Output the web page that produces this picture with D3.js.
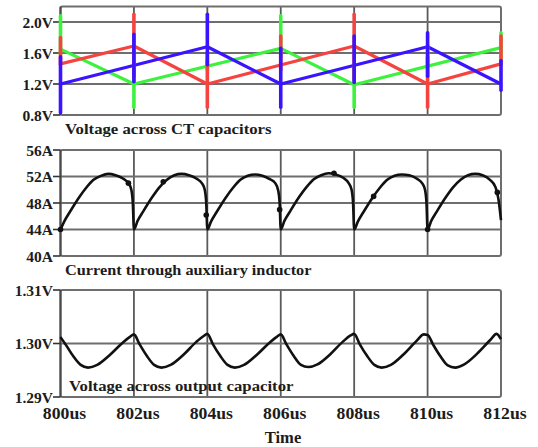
<!DOCTYPE html>
<html>
<head>
<meta charset="utf-8">
<script src="https://cdn.jsdelivr.net/npm/d3@7"></script>
<style>
  html, body { margin: 0; padding: 0; background: #ffffff; }
  svg { display: block; }
  text { font-family: "Liberation Serif", "Times New Roman", serif; font-weight: bold; fill: #1c1c1c; }
</style>
</head>
<body>
<svg id="chart" width="538" height="447"></svg>
<script>
// ---------------- DATA ----------------
const xTicks = [800, 802, 804, 806, 808, 810, 812];
const xTickLabels = ["800us", "802us", "804us", "806us", "808us", "810us", "812us"];
const xTitle = "Time";

// Panel 1: Voltage across CT capacitors
const p1Title = "Voltage across CT capacitors";
const p1Ticks = [0.8, 1.2, 1.6, 2.0];
const p1TickLabels = ["0.8V", "1.2V", "1.6V", "2.0V"];
const greenRamp = [[800, 1.65], [802, 1.2], [806, 1.66], [808, 1.19], [812, 1.67]];
const redRamp   = [[800, 1.46], [802, 1.69], [804, 1.2], [808, 1.69], [810, 1.2], [812, 1.46]];
const blueRamp  = [[800, 1.2], [804, 1.68], [806, 1.2], [810, 1.68], [812, 1.2]];
// switching spikes: [time, low, high]
const greenSpikes = [[800, 1.58, 2.08], [802, 0.9, 1.4], [804, 1.38, 1.58], [806, 1.55, 2.08], [808, 0.9, 1.4], [810, 1.42, 1.7], [812, 1.5, 1.86]];
const redSpikes   = [[800, 1.45, 1.8], [802, 1.3, 2.1], [804, 0.9, 1.5], [806, 1.38, 1.82], [808, 1.25, 2.1], [810, 0.9, 1.55], [812, 1.45, 1.82]];
const blueSpikes  = [[800, 0.83, 1.55], [802, 1.23, 1.84], [804, 1.45, 2.1], [806, 0.9, 1.66], [808, 1.22, 1.82], [810, 1.3, 1.86], [812, 1.12, 1.5]];

// Panel 2: Current through auxiliary inductor
const p2Title = "Current through auxiliary inductor";
const p2Ticks = [40, 44, 48, 52, 56];
const p2TickLabels = ["40A", "44A", "48A", "52A", "56A"];
const currentPts = [
  [800.0, 44.0], [800.1, 45.2], [800.25, 46.6], [800.5, 48.8], [800.7, 50.3], [800.9, 51.5], [801.1, 52.1], [801.3, 52.4], [801.5, 52.2], [801.7, 51.7], [801.85, 51.0], [801.93, 50.0], [801.97, 48.0],
  [802.0, 44.0], [802.1, 45.3], [802.25, 46.7], [802.5, 48.9], [802.7, 50.4], [802.9, 51.5], [803.1, 52.2], [803.3, 52.4], [803.5, 52.2], [803.7, 51.7], [803.85, 51.0], [803.93, 50.0], [803.97, 48.0],
  [804.0, 44.0], [804.1, 45.2], [804.25, 46.6], [804.5, 48.8], [804.7, 50.3], [804.9, 51.5], [805.1, 52.1], [805.3, 52.3], [805.5, 52.1], [805.7, 51.6], [805.85, 51.0], [805.93, 49.9], [805.97, 48.0],
  [806.0, 44.0], [806.1, 45.3], [806.25, 46.7], [806.5, 48.9], [806.7, 50.4], [806.9, 51.6], [807.1, 52.2], [807.3, 52.5], [807.5, 52.3], [807.7, 51.8], [807.85, 51.0], [807.93, 50.0], [807.97, 48.0],
  [808.0, 44.0], [808.1, 45.2], [808.25, 46.6], [808.5, 48.8], [808.7, 50.3], [808.9, 51.5], [809.1, 52.1], [809.3, 52.3], [809.5, 52.2], [809.7, 51.7], [809.85, 51.0], [809.93, 50.0], [809.97, 48.0],
  [810.0, 44.0], [810.1, 45.3], [810.25, 46.7], [810.5, 48.9], [810.7, 50.4], [810.9, 51.5], [811.1, 52.2], [811.3, 52.4], [811.5, 52.2], [811.7, 51.5], [811.85, 50.4], [811.93, 48.6], [812.0, 45.4]
];
const currentDots = [[800.0, 44.0], [801.85, 51.0], [802.8, 51.2], [803.97, 46.2], [805.97, 47.0], [807.45, 52.5], [808.53, 49.0], [810.0, 44.0], [811.9, 49.6]];

// Panel 3: Voltage across output capacitor
const p3Title = "Voltage across output capacitor";
const p3Ticks = [1.29, 1.30, 1.31];
const p3TickLabels = ["1.29V", "1.30V", "1.31V"];
const voutPts = [
  [800.0, 1.3012], [800.15, 1.2997], [800.35, 1.2976], [800.55, 1.2960], [800.75, 1.2955], [801.0, 1.2960], [801.35, 1.2979], [801.7, 1.3002], [801.9, 1.3013],
  [802.0, 1.3017], [802.15, 1.2999], [802.35, 1.2977], [802.55, 1.2960], [802.75, 1.2955], [803.0, 1.2960], [803.35, 1.2979], [803.7, 1.3003], [803.9, 1.3014],
  [804.0, 1.3018], [804.15, 1.2999], [804.35, 1.2977], [804.55, 1.2960], [804.75, 1.2955], [805.0, 1.2960], [805.35, 1.2979], [805.7, 1.3002], [805.9, 1.3013],
  [806.0, 1.3017], [806.15, 1.2999], [806.35, 1.2977], [806.55, 1.2960], [806.75, 1.2956], [807.0, 1.2961], [807.35, 1.2980], [807.7, 1.3004], [807.9, 1.3015],
  [808.0, 1.3018], [808.15, 1.2999], [808.35, 1.2977], [808.55, 1.2960], [808.75, 1.2955], [809.0, 1.2960], [809.35, 1.2980], [809.7, 1.3005], [809.9, 1.3017],
  [810.0, 1.3016], [810.15, 1.2998], [810.35, 1.2976], [810.55, 1.2959], [810.75, 1.2955], [811.0, 1.2961], [811.35, 1.2981], [811.7, 1.3006], [811.88, 1.3018],
  [812.0, 1.3008]
];

// ---------------- DRAW ----------------
const svg = d3.select("#chart");
const x = d3.scaleLinear().domain([800, 812]).range([60.5, 501]);

const panels = [
  { y: d3.scaleLinear().domain([0.8, 2.2]).range([115, 6.5]), ticks: p1Ticks, labels: p1TickLabels, grid: [1.2, 1.6, 2.0] },
  { y: d3.scaleLinear().domain([40, 56]).range([256, 150]), ticks: p2Ticks, labels: p2TickLabels, grid: [44, 48, 52] },
  { y: d3.scaleLinear().domain([1.29, 1.31]).range([397, 290]), ticks: p3Ticks, labels: p3TickLabels, grid: [1.30] }
];

panels.forEach(p => {
  const g = svg.append("g");
  const [y0, y1] = p.y.range();
  // vertical grid
  g.selectAll(".vg").data(xTicks.slice(1, -1)).join("line")
    .attr("x1", d => x(d)).attr("x2", d => x(d))
    .attr("y1", y1).attr("y2", y0)
    .attr("stroke", "#5a5a5a").attr("stroke-width", 1.8);
  // horizontal grid
  g.selectAll(".hg").data(p.grid).join("line")
    .attr("x1", x.range()[0]).attr("x2", x.range()[1])
    .attr("y1", d => p.y(d)).attr("y2", d => p.y(d))
    .attr("stroke", "#6e6e6e").attr("stroke-width", 2.2);
  // frame
  g.append("rect")
    .attr("x", x.range()[0]).attr("y", y1)
    .attr("width", x.range()[1] - x.range()[0]).attr("height", y0 - y1)
    .attr("rx", 2).attr("fill", "none")
    .attr("stroke", "#6e6e6e").attr("stroke-width", 2);
  // left axis line
  g.append("line")
    .attr("x1", x.range()[0]).attr("x2", x.range()[0])
    .attr("y1", y1).attr("y2", y0)
    .attr("stroke", "#4a4a4a").attr("stroke-width", 2);
  // tick marks + labels
  g.selectAll(".tk").data(p.ticks).join("line")
    .attr("x1", 53).attr("x2", x.range()[0])
    .attr("y1", d => p.y(d)).attr("y2", d => p.y(d))
    .attr("stroke", "#333").attr("stroke-width", 1.6);
  g.selectAll(".tl").data(p.ticks).join("text")
    .attr("x", 53).attr("y", d => p.y(d))
    .attr("text-anchor", "end").attr("dominant-baseline", "central")
    .style("font-size", "15.5px")
    .text((d, i) => p.labels[i]);
});

// Panel 1 series
const P1 = panels[0];
const line1 = d3.line().x(d => x(d[0])).y(d => P1.y(d[1]));
const series1 = [
  { ramp: greenRamp, spikes: greenSpikes, color: "#3cf23c" },
  { ramp: redRamp, spikes: redSpikes, color: "#f5443f" },
  { ramp: blueRamp, spikes: blueSpikes, color: "#3a14ff" }
];
series1.forEach(s => {
  svg.append("path").datum(s.ramp).attr("d", line1)
    .attr("fill", "none").attr("stroke", s.color).attr("stroke-width", 3.2)
    .attr("stroke-linejoin", "round");
});
series1.forEach(s => {
  svg.selectAll(null).data(s.spikes).join("line")
    .attr("x1", d => x(d[0])).attr("x2", d => x(d[0]))
    .attr("y1", d => P1.y(d[1])).attr("y2", d => P1.y(d[2]))
    .attr("stroke", s.color).attr("stroke-width", 3.6).attr("stroke-linecap", "round");
});

// Panel 2 series
const P2 = panels[1];
svg.append("path").datum(currentPts)
  .attr("d", d3.line().x(d => x(d[0])).y(d => P2.y(d[1])).curve(d3.curveMonotoneX))
  .attr("fill", "none").attr("stroke", "#111").attr("stroke-width", 2.6);
svg.selectAll(".cdot").data(currentDots).join("circle")
  .attr("cx", d => x(d[0])).attr("cy", d => P2.y(d[1])).attr("r", 2.8).attr("fill", "#111");

// Panel 3 series
const P3 = panels[2];
svg.append("path").datum(voutPts)
  .attr("d", d3.line().x(d => x(d[0])).y(d => P3.y(d[1])).curve(d3.curveMonotoneX))
  .attr("fill", "none").attr("stroke", "#111").attr("stroke-width", 2.6);

// Titles (slightly stretched horizontally like the original)
function stretchedText(str, tx, ty, size, sx, anchor) {
  svg.append("text")
    .attr("transform", `translate(${tx},${ty}) scale(${sx},1)`)
    .attr("text-anchor", anchor || "start")
    .style("font-size", size + "px")
    .text(str);
}
stretchedText(p1Title, 65, 134, 15.5, 1.08);
stretchedText(p2Title, 65, 275, 15.5, 1.05);
stretchedText(p3Title, 69, 391, 15.5, 1.08);

// X tick labels and title
xTicks.forEach((t, i) => stretchedText(xTickLabels[i], x(t) + 4, 419, 15.8, 1.12, "middle"));
stretchedText(xTitle, 283, 443, 15.8, 1.05, "middle");
</script>
</body>
</html>
